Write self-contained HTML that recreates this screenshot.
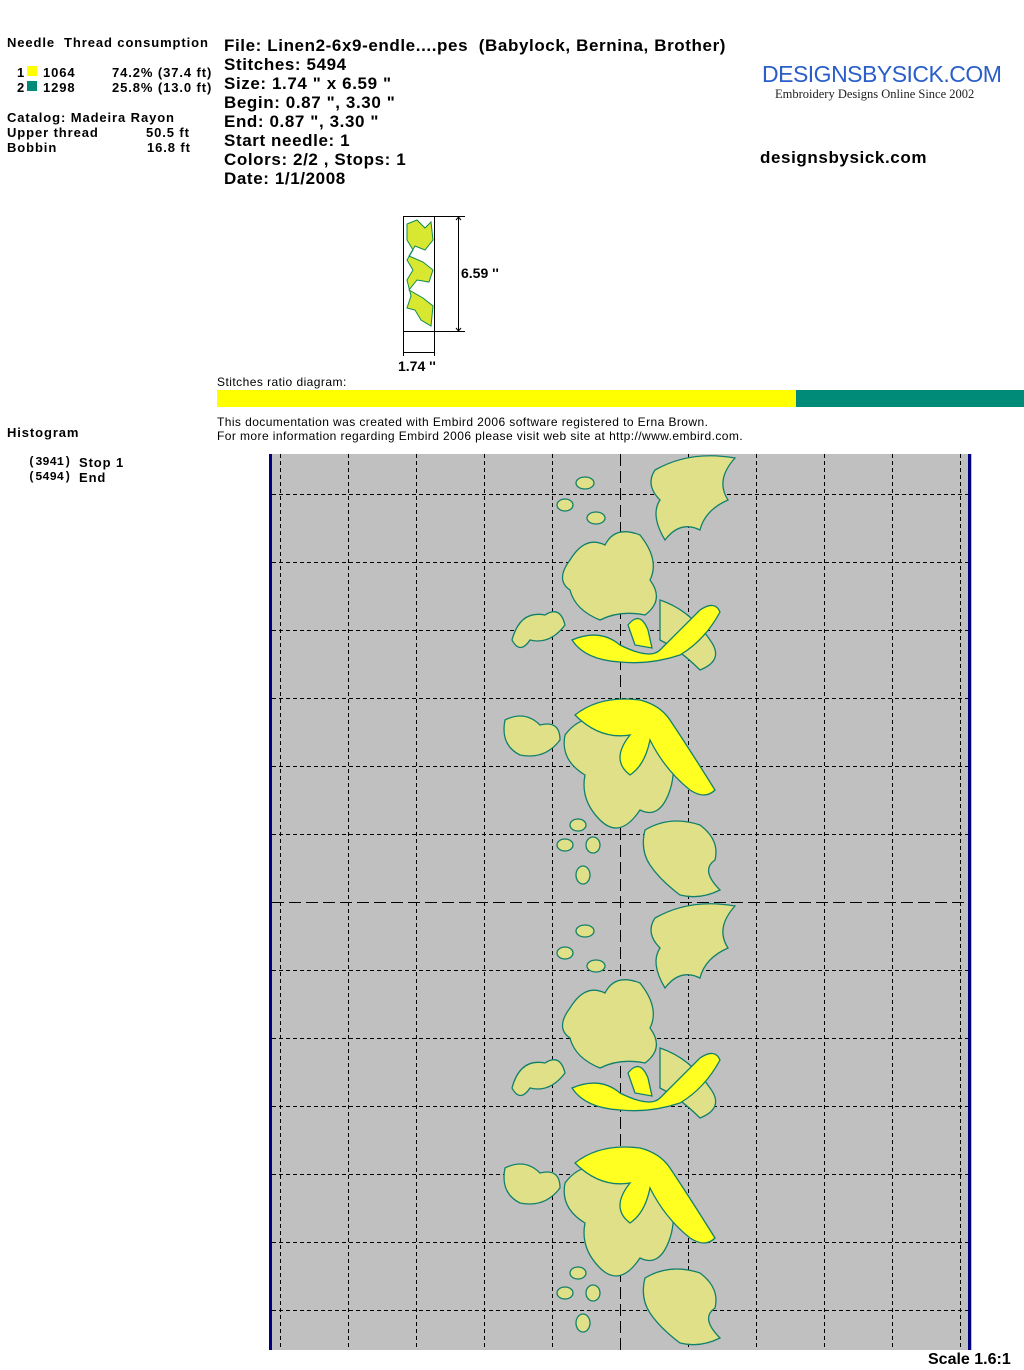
<!DOCTYPE html>
<html><head><meta charset="utf-8"><style>
body{margin:0;background:#fff;width:1024px;height:1370px;overflow:hidden;position:relative;font-family:"Liberation Sans",Arial,sans-serif;}
.a{position:absolute;white-space:nowrap;color:#000;}
.b{font-weight:bold;}
.s{font-size:13px;letter-spacing:0.9px;}
.h{font-size:17px;font-weight:bold;line-height:19px;letter-spacing:0.6px;}
</style></head><body>
<div class="a b s" style="left:7px;top:35px;">Needle&nbsp;&nbsp;Thread consumption</div>
<div class="a b s" style="left:17px;top:65px;">1</div>
<div class="a" style="left:27px;top:66px;width:10px;height:10px;background:#ffff00"></div>
<div class="a b s" style="left:43px;top:65px;">1064</div>
<div class="a b s" style="left:112px;top:65px;">74.2% (37.4 ft)</div>
<div class="a b s" style="left:17px;top:80px;">2</div>
<div class="a" style="left:27px;top:81px;width:10px;height:10px;background:#008a78"></div>
<div class="a b s" style="left:43px;top:80px;">1298</div>
<div class="a b s" style="left:112px;top:80px;">25.8% (13.0 ft)</div>
<div class="a b s" style="left:7px;top:110px;">Catalog: Madeira Rayon</div>
<div class="a b s" style="left:7px;top:125px;">Upper thread</div>
<div class="a b s" style="left:146px;top:125px;">50.5 ft</div>
<div class="a b s" style="left:7px;top:140px;">Bobbin</div>
<div class="a b s" style="left:147px;top:140px;">16.8 ft</div>
<div class="a b s" style="left:7px;top:425px;">Histogram</div>
<div class="a b" style="left:28px;top:455px;font-family:'Liberation Mono',monospace;font-size:12px;">(3941)</div>
<div class="a b s" style="left:79px;top:455px;">Stop 1</div>
<div class="a b" style="left:28px;top:470px;font-family:'Liberation Mono',monospace;font-size:12px;">(5494)</div>
<div class="a b s" style="left:79px;top:470px;">End</div>

<div class="a h" style="left:224px;top:36px;">File: Linen2-6x9-endle....pes&nbsp; (Babylock, Bernina, Brother)<br>Stitches: 5494<br>Size: 1.74 " x 6.59 "<br>Begin: 0.87 ", 3.30 "<br>End: 0.87 ", 3.30 "<br>Start needle: 1<br>Colors: 2/2 , Stops: 1<br>Date: 1/1/2008</div>

<div class="a" style="left:762px;top:61px;font-family:'Liberation Sans',sans-serif;font-size:23px;color:#2a5ec8;letter-spacing:-0.5px;">DESIGNSBYSICK.COM</div>
<div class="a" style="left:775px;top:87px;font-family:'Liberation Serif',serif;font-size:12.5px;color:#222;">Embroidery Designs Online Since 2002</div>
<div class="a h" style="left:760px;top:148px;">designsbysick.com</div>

<div class="a" style="left:217px;top:375px;font-size:12px;letter-spacing:0.45px;">Stitches ratio diagram:</div>
<div class="a" style="left:217px;top:390px;width:579px;height:17px;background:#ffff00"></div>
<div class="a" style="left:796px;top:390px;width:228px;height:17px;background:#008a78"></div>
<div class="a" style="left:217px;top:415px;font-size:12px;line-height:14px;letter-spacing:0.42px;">This documentation was created with Embird 2006 software registered to Erna Brown.<br>For more information regarding Embird 2006 please visit web site at http://www.embird.com.</div>

<svg class="a" style="left:395px;top:210px" width="120" height="170">
<rect x="8.5" y="6.5" width="31" height="115" fill="#fff" stroke="#000"/>
<g fill="#d8e830" stroke="#108a50" stroke-width="1">
<path d="M12 14 L22 10 L30 18 L36 12 L38 30 L30 40 L20 36 L14 46 L28 52 L38 60 L34 72 L22 70 L14 80 L28 88 L38 96 L36 116 L26 110 L20 100 L12 98 L16 86 L12 70 L18 60 L12 50 L18 40 L12 30 Z"/>
</g>
<line x1="39.5" y1="6.5" x2="70" y2="6.5" stroke="#000"/>
<line x1="39.5" y1="121.5" x2="70" y2="121.5" stroke="#000"/>
<line x1="63.5" y1="7" x2="63.5" y2="121" stroke="#000"/><path d="M61 10 L63.5 7 L66 10 M61 118 L63.5 121 L66 118" stroke="#000" fill="none"/>
<line x1="8.5" y1="122" x2="8.5" y2="146" stroke="#000"/><line x1="39.5" y1="122" x2="39.5" y2="146" stroke="#000"/>
<line x1="9" y1="142.5" x2="39" y2="142.5" stroke="#000"/>
<text x="66" y="68" font-family="Liberation Sans" font-weight="bold" font-size="14">6.59 ''</text>
<text x="3" y="161" font-family="Liberation Sans" font-weight="bold" font-size="14">1.74 ''</text>
</svg>

<svg class="a" style="left:0;top:0" width="1024" height="1370">
<rect x="269" y="454" width="703" height="896" fill="#c0c0c0"/>
<rect x="269" y="454" width="3" height="896" fill="#000080"/>
<rect x="968" y="454" width="3" height="896" fill="#000080"/>
<g stroke="#000" stroke-width="1" stroke-dasharray="4,3">
<line x1="280.5" y1="454" x2="280.5" y2="1350"/><line x1="348.5" y1="454" x2="348.5" y2="1350"/>
<line x1="416.5" y1="454" x2="416.5" y2="1350"/><line x1="484.5" y1="454" x2="484.5" y2="1350"/>
<line x1="552.5" y1="454" x2="552.5" y2="1350"/><line x1="688.5" y1="454" x2="688.5" y2="1350"/>
<line x1="756.5" y1="454" x2="756.5" y2="1350"/><line x1="824.5" y1="454" x2="824.5" y2="1350"/>
<line x1="892.5" y1="454" x2="892.5" y2="1350"/><line x1="960.5" y1="454" x2="960.5" y2="1350"/>
<line x1="272" y1="494.5" x2="968" y2="494.5"/><line x1="272" y1="562.5" x2="968" y2="562.5"/>
<line x1="272" y1="630.5" x2="968" y2="630.5"/><line x1="272" y1="698.5" x2="968" y2="698.5"/>
<line x1="272" y1="766.5" x2="968" y2="766.5"/><line x1="272" y1="834.5" x2="968" y2="834.5"/>
<line x1="272" y1="970.5" x2="968" y2="970.5"/><line x1="272" y1="1038.5" x2="968" y2="1038.5"/>
<line x1="272" y1="1106.5" x2="968" y2="1106.5"/><line x1="272" y1="1174.5" x2="968" y2="1174.5"/>
<line x1="272" y1="1242.5" x2="968" y2="1242.5"/><line x1="272" y1="1310.5" x2="968" y2="1310.5"/>
</g>
<g stroke="#000" stroke-width="1" stroke-dasharray="12,5">
<line x1="620.5" y1="454" x2="620.5" y2="1350"/>
<line x1="272" y1="902.5" x2="968" y2="902.5"/>
</g>
<defs>
<g id="m">
<g fill="#e0e088" stroke="#12806c" stroke-width="1.3">
<path d="M655 470 Q690 450 735 458 Q715 480 728 500 Q705 510 700 530 Q680 520 665 540 Q650 515 660 500 Q645 485 655 470Z"/>
<path d="M570 560 Q585 535 605 545 Q615 525 640 535 Q660 560 650 580 Q665 600 645 615 Q620 610 600 620 Q575 610 570 590 Q555 580 570 560Z"/>
<path d="M512 640 Q520 610 545 615 Q560 605 565 625 Q550 645 530 640 Q520 655 512 640Z"/>
<path d="M660 600 Q690 610 710 640 Q725 660 700 670 Q680 650 660 640Z"/>
<path d="M565 735 Q580 715 600 720 Q630 700 660 720 Q680 760 670 790 Q660 820 640 810 Q620 840 600 820 Q580 800 585 775 Q560 760 565 735Z"/>
<path d="M505 720 Q525 710 540 725 Q560 720 560 740 Q545 760 520 755 Q500 745 505 720Z"/>
<path d="M645 830 Q670 815 700 825 Q720 840 715 860 Q700 870 720 890 Q700 900 680 895 Q660 880 650 865 Q640 850 645 830Z"/>
<ellipse cx="585" cy="483" rx="9" ry="6"/><ellipse cx="565" cy="505" rx="8" ry="6"/><ellipse cx="596" cy="518" rx="9" ry="6"/>
<ellipse cx="578" cy="825" rx="8" ry="6"/><ellipse cx="565" cy="845" rx="8" ry="6"/><ellipse cx="593" cy="845" rx="7" ry="8"/><ellipse cx="583" cy="875" rx="7" ry="9"/>
</g>
<g fill="#ffff22" stroke="#12806c" stroke-width="1.3">
<path d="M572 640 Q600 628 620 645 Q650 660 660 650 Q680 630 700 610 Q715 600 720 612 Q705 640 680 655 Q650 665 620 662 Q585 660 572 640Z"/>
<path d="M628 625 Q640 610 648 630 L652 648 L635 645Z"/>
<path d="M575 715 Q600 695 640 700 Q660 705 670 720 Q690 750 715 790 Q705 800 690 790 Q665 770 650 740 Q645 765 630 775 Q610 760 630 735 Q600 740 575 715Z"/>
</g>
</g>
</defs>
<use href="#m"/>
<use href="#m" transform="translate(0,448)"/>
</svg>
<div class="a b" style="left:928px;top:1351px;font-size:16px;">Scale 1.6:1</div>
</body></html>
